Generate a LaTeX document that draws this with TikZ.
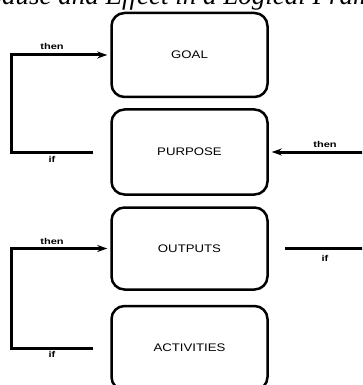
\documentclass[tikz,border=0pt]{standalone}
\usepackage{fontspec}
\usepackage{graphicx}
\setmainfont{Liberation Serif}
\newfontfamily\labfont{Liberation Sans}
\usetikzlibrary{arrows.meta}
\newcommand{\wlab}[1]{\scalebox{1.3}[1]{\labfont\bfseries\fontsize{8.5}{9}\selectfont #1}}
\newcommand{\wbox}[1]{\scalebox{1.2}[1]{\labfont\fontsize{11}{12}\selectfont #1}}
\begin{document}
\begin{tikzpicture}[x=1pt,y=1pt,
  blockbox/.style={draw=black,line width=2.5pt,rounded corners=13pt,minimum width=156pt,inner sep=0pt},
  conn/.style={draw=black,line width=3pt},
  arr/.style={-{Stealth[length=10pt,width=7pt]},shorten >=3pt},
  lab/.style={inner sep=0pt}]
\useasboundingbox (0,0) rectangle (362,-385);
\clip (0,0) rectangle (362,-385);
% title (cut at top, as in the reference)
\node[anchor=base west,inner sep=0pt,font=\itshape\fontsize{27}{29}\selectfont] (title) at (-16,-4.5) {Cause and Effect in a Logical Framework};
% boxes
\node[blockbox,minimum height=84pt] (goal) at (189.5,-55) {\wbox{GOAL}};
\node[blockbox,minimum height=85pt] (purpose) at (189.5,-152) {\wbox{PURPOSE}};
\node[blockbox,minimum height=82pt] (outputs) at (189.5,-248.5) {\wbox{OUTPUTS}};
\node[blockbox,minimum height=84pt] (activities) at (189.5,-348) {\wbox{ACTIVITIES}};
% helper coordinates
\coordinate (lx) at (11,0);
\coordinate (pif) at ([xshift=-17pt]purpose.west);
\coordinate (aif) at ([xshift=-17pt]activities.west);
\coordinate (rthen) at (370,-152);
\coordinate (oif) at ([xshift=16pt]outputs.east);
\coordinate (oend) at (370,-248.5);
% connectors
\draw[conn,arr] (pif) -- (pif -| lx) |- (goal.west);
\draw[conn,arr] (aif) -- (aif -| lx) |- (outputs.west);
\draw[conn,arr] (rthen) -- (purpose.east);
\draw[conn] (oif) -- (oend);
% labels
\node[lab] (t1) at (52,-46) {\wlab{then}};
\node[lab] (i1) at (52,-159) {\wlab{if}};
\node[lab] (t2) at (325,-144) {\wlab{then}};
\node[lab] (i2) at (325,-258) {\wlab{if}};
\node[lab] (t3) at (52,-241) {\wlab{then}};
\node[lab] (i3) at (52,-354) {\wlab{if}};
\end{tikzpicture}
\end{document}
